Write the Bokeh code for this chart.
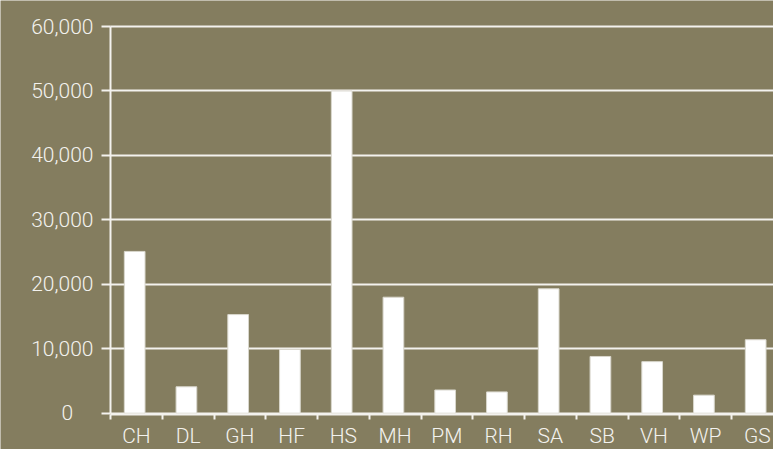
import numpy as np
from bokeh.plotting import figure
from bokeh.models import Range1d, FixedTicker, NumeralTickFormatter, ColumnDataSource
from bokeh.transform import dodge
from bokeh.embed import file_html
from bokeh.resources import INLINE

# ---- data ----
categories = ["CH", "DL", "GH", "HF", "HS", "MH", "PM", "RH", "SA", "SB", "VH", "WP", "GS"]
values = [25100, 4100, 15300, 9900, 50000, 18000, 3600, 3300, 19300, 8800, 8000, 2800, 11400]
y_ticks = [0, 10000, 20000, 30000, 40000, 50000, 60000]

# ---- style ----
BG = "#847D5F"
FG = "#F3F2EE"
FONT = "Roboto Light, Roboto"
FSIZE = "21px"

W, H = 773, 449
AXIS_X, TOP_Y, ZERO_Y = 110, 26, 412.7
BAND_PX = 51.75

idx = np.arange(len(categories))
src = ColumnDataSource(dict(x=idx + 0.5, top=values, cat=categories))

# frame covers the whole figure; axes are pinned inside it
px_per_unit = (ZERO_Y - TOP_Y) / 60000.0
y_end = 60000 + TOP_Y / px_per_unit
y_start = -(H - ZERO_Y) / px_per_unit
x_start = -AXIS_X / BAND_PX
x_end = (W - AXIS_X) / BAND_PX

p = figure(width=W, height=H, output_backend="svg", toolbar_location=None,
           x_range=Range1d(x_start, x_end), y_range=Range1d(y_start, y_end),
           min_border_left=0, min_border_right=0, min_border_top=0, min_border_bottom=0,
           background_fill_color=BG, border_fill_color=BG, outline_line_color=None)

p.vbar(x=dodge("x", -0.033), top="top", bottom=0, width=0.4, source=src,
       fill_color="#FFFFFF", line_color="#D9D7CD", line_width=1)

# grid
p.xgrid.visible = False
p.ygrid.grid_line_color = FG
p.ygrid.grid_line_width = 2
p.ygrid.cross_bounds = (0, x_end)

# y axis
ya = p.yaxis[0]
ya.fixed_location = 0
ya.ticker = FixedTicker(ticks=y_ticks)
ya.formatter = NumeralTickFormatter(format="0,0")
ya.major_label_overrides = {0: "0" + "\u00a0" * 4}
ya.bounds = (0, 60000)
ya.axis_line_color = FG
ya.axis_line_width = 2
ya.major_tick_line_color = FG
ya.major_tick_line_width = 2
ya.major_tick_out = 9
ya.major_tick_in = 0
ya.minor_tick_line_color = None
ya.major_label_standoff = 8
ya.major_label_text_color = FG
ya.major_label_text_font = FONT
ya.major_label_text_font_size = FSIZE

# x axis: labels at band centres, ticks at band boundaries
xa = p.xaxis[0]
xa.fixed_location = -200
xa.bounds = (0, x_end)
xa.ticker = FixedTicker(ticks=list(idx + 0.5), minor_ticks=list(range(len(categories) + 1)))
xa.major_label_overrides = {float(i + 0.5): c for i, c in enumerate(categories)}
xa.axis_line_color = FG
xa.axis_line_width = 2
xa.major_tick_line_color = None
xa.major_tick_out = 0
xa.major_tick_in = 0
xa.minor_tick_line_color = FG
xa.minor_tick_line_width = 2
xa.minor_tick_out = 5
xa.minor_tick_in = 0
xa.major_label_standoff = 5
xa.major_label_text_color = FG
xa.major_label_text_font = FONT
xa.major_label_text_font_size = FSIZE

open("out.html", "w").write(file_html(p, INLINE))
